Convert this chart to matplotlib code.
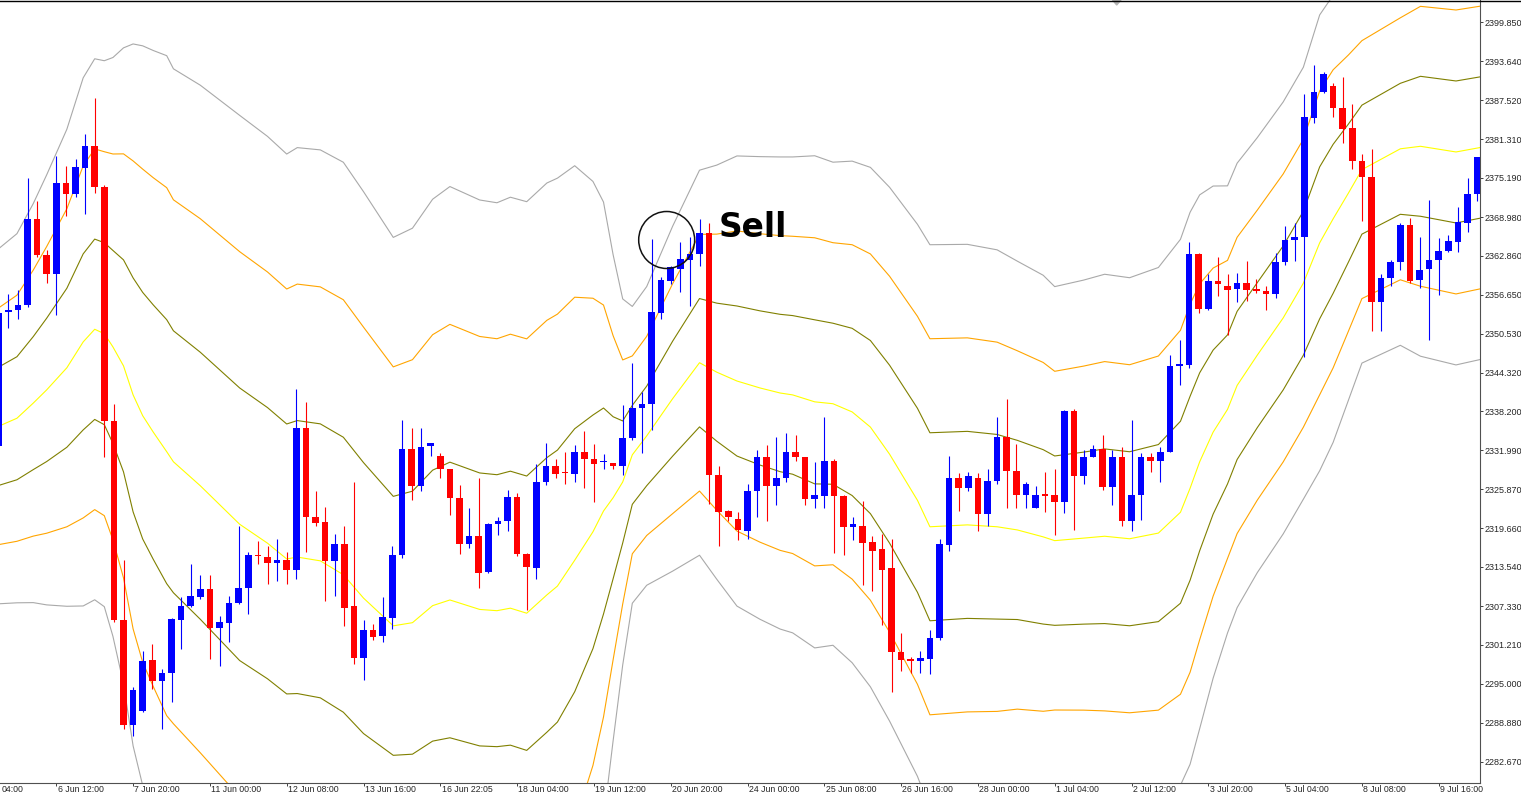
import numpy as np
import matplotlib
matplotlib.use("Agg")
import matplotlib.pyplot as plt
from matplotlib.patches import Ellipse, Polygon
from matplotlib.lines import Line2D
import matplotlib.transforms as mtrans

# 4H candles, XAUUSD-like
opens = [2332.7, 2354.0, 2354.2, 2355.1, 2368.6, 2363.0, 2359.9, 2374.4, 2372.6, 2376.8,
         2380.2, 2373.8, 2336.6, 2305.1, 2288.5, 2290.7, 2298.8, 2295.4, 2296.7, 2305.1,
         2307.4, 2308.8, 2310.1, 2303.9, 2304.6, 2307.8, 2310.2, 2315.4, 2315.1, 2314.2,
         2314.7, 2313.0, 2335.6, 2321.5, 2320.7, 2314.5, 2317.1, 2307.3, 2299.1, 2303.5,
         2302.6, 2305.5, 2315.4, 2332.2, 2326.3, 2332.7, 2331.1, 2329.0, 2324.5, 2317.1,
         2318.4, 2312.7, 2320.3, 2320.8, 2324.6, 2315.6, 2313.4, 2327.0, 2329.5, 2328.5,
         2328.3, 2331.8, 2330.6, 2330.1, 2330.0, 2329.5, 2334.0, 2338.7, 2339.4, 2353.7,
         2358.8, 2360.8, 2362.2, 2363.1, 2366.4, 2328.1, 2322.4, 2321.2, 2319.3, 2325.6,
         2330.9, 2326.3, 2327.7, 2331.8, 2330.9, 2324.3, 2324.8, 2330.3, 2324.8, 2319.8,
         2320.1, 2317.5, 2316.3, 2313.3, 2300.0, 2298.8, 2298.6, 2298.9, 2302.3, 2317.0,
         2327.6, 2326.0, 2327.7, 2321.9, 2327.2, 2334.2, 2328.8, 2325.0, 2322.9, 2325.0,
         2324.9, 2323.8, 2338.3, 2327.9, 2331.0, 2332.3, 2326.2, 2330.9, 2320.8, 2324.9,
         2330.9, 2330.3, 2331.8, 2345.4, 2345.5, 2363.2, 2354.4, 2358.8, 2358.1, 2357.6,
         2358.6, 2357.5, 2357.2, 2356.8, 2361.8, 2365.4, 2365.9, 2384.7, 2388.8, 2389.7,
         2386.2, 2383.1, 2377.9, 2375.3, 2355.5, 2359.3, 2361.9, 2367.8, 2359.0, 2360.7,
         2362.1, 2363.6, 2365.0, 2368.1, 2372.6]
highs = [2354.5, 2356.8, 2357.4, 2375.1, 2371.5, 2363.8, 2378.6, 2377.0, 2378.2, 2382.1,
         2387.8, 2374.0, 2339.4, 2314.7, 2294.5, 2300.2, 2301.4, 2297.4, 2305.5, 2308.8,
         2314.0, 2312.3, 2312.2, 2305.7, 2309.0, 2320.1, 2315.9, 2317.7, 2316.8, 2318.0,
         2315.9, 2341.7, 2339.7, 2325.5, 2323.1, 2318.7, 2320.1, 2327.0, 2305.1, 2304.5,
         2308.8, 2316.9, 2336.8, 2335.6, 2335.6, 2333.1, 2331.6, 2329.1, 2326.5, 2322.8,
         2327.7, 2320.5, 2321.4, 2325.8, 2325.3, 2315.7, 2329.9, 2333.2, 2330.7, 2331.8,
         2332.8, 2335.0, 2333.0, 2331.4, 2330.0, 2339.2, 2345.8, 2341.3, 2365.5, 2359.5,
         2361.3, 2365.0, 2365.9, 2368.7, 2368.1, 2329.5, 2322.6, 2322.2, 2326.7, 2332.1,
         2332.8, 2334.1, 2334.8, 2334.4, 2331.0, 2330.2, 2337.3, 2330.6, 2325.0, 2321.5,
         2324.0, 2318.4, 2318.7, 2318.0, 2303.1, 2299.3, 2300.2, 2303.6, 2318.0, 2331.1,
         2328.4, 2328.6, 2328.4, 2329.0, 2337.3, 2340.1, 2333.0, 2327.0, 2326.3, 2328.6,
         2329.1, 2338.4, 2338.5, 2332.1, 2332.8, 2334.4, 2332.0, 2332.5, 2336.9, 2331.6,
         2331.6, 2332.5, 2347.2, 2349.5, 2365.0, 2363.3, 2359.9, 2362.6, 2359.9, 2360.1,
         2362.0, 2359.1, 2358.1, 2363.3, 2367.6, 2368.1, 2388.5, 2393.1, 2391.9, 2390.3,
         2391.2, 2386.9, 2379.0, 2379.8, 2359.9, 2362.2, 2368.1, 2368.9, 2365.9, 2371.7,
         2365.7, 2366.2, 2370.5, 2375.2, 2378.5]
lows = [2332.0, 2351.4, 2352.8, 2354.7, 2362.7, 2358.6, 2353.5, 2369.2, 2372.2, 2369.4,
        2372.8, 2330.9, 2304.8, 2287.8, 2286.8, 2290.5, 2294.2, 2287.8, 2292.1, 2300.5,
        2307.2, 2308.5, 2298.9, 2297.9, 2301.6, 2307.6, 2306.0, 2314.0, 2310.8, 2311.3,
        2310.9, 2311.6, 2315.9, 2320.1, 2308.1, 2309.0, 2304.1, 2298.1, 2295.6, 2301.9,
        2301.6, 2303.7, 2314.9, 2324.2, 2325.6, 2331.1, 2327.7, 2321.7, 2315.6, 2316.6,
        2310.2, 2312.5, 2318.6, 2319.3, 2315.3, 2306.7, 2311.6, 2326.5, 2327.7, 2326.7,
        2327.0, 2326.0, 2323.9, 2329.0, 2329.1, 2328.1, 2333.7, 2331.6, 2335.2, 2352.8,
        2358.3, 2357.1, 2354.9, 2361.3, 2323.5, 2316.9, 2320.8, 2317.8, 2318.0, 2321.5,
        2320.8, 2323.3, 2327.0, 2330.3, 2323.3, 2322.8, 2322.9, 2315.7, 2315.5, 2317.8,
        2310.6, 2309.7, 2304.4, 2293.7, 2297.0, 2296.8, 2296.8, 2296.5, 2302.0, 2316.1,
        2322.4, 2325.6, 2319.3, 2320.0, 2326.7, 2322.9, 2322.9, 2322.9, 2322.8, 2322.2,
        2318.6, 2322.1, 2319.4, 2326.7, 2331.0, 2325.8, 2323.3, 2320.0, 2319.2, 2321.0,
        2328.6, 2327.0, 2331.7, 2342.4, 2345.0, 2353.7, 2354.2, 2356.5, 2350.3, 2355.5,
        2355.7, 2357.0, 2354.2, 2356.1, 2361.4, 2362.0, 2346.8, 2383.9, 2388.7, 2384.8,
        2380.7, 2376.6, 2368.4, 2351.0, 2351.0, 2358.1, 2360.6, 2358.5, 2357.8, 2349.5,
        2356.7, 2363.4, 2363.4, 2366.6, 2371.5]
closes = [2353.8, 2354.2, 2355.1, 2368.6, 2362.9, 2359.9, 2374.4, 2372.6, 2376.9, 2380.2,
          2373.7, 2336.6, 2305.1, 2288.5, 2294.0, 2298.6, 2295.4, 2296.7, 2305.3, 2307.4,
          2309.0, 2310.1, 2303.9, 2304.8, 2307.8, 2310.2, 2315.4, 2315.2, 2314.2, 2314.7,
          2313.0, 2335.6, 2321.4, 2320.5, 2314.5, 2317.1, 2307.1, 2299.1, 2303.5, 2302.4,
          2305.6, 2315.4, 2332.2, 2326.3, 2332.5, 2333.1, 2329.1, 2324.4, 2317.1, 2318.4,
          2312.5, 2320.3, 2320.8, 2324.6, 2315.6, 2313.5, 2327.0, 2329.5, 2328.3, 2328.4,
          2331.8, 2330.6, 2329.9, 2330.3, 2329.5, 2334.0, 2338.7, 2339.4, 2353.9, 2359.0,
          2361.1, 2362.4, 2363.2, 2366.4, 2328.1, 2322.2, 2321.5, 2319.4, 2325.6, 2330.9,
          2326.3, 2327.7, 2331.8, 2330.9, 2324.3, 2324.9, 2330.3, 2324.8, 2319.8, 2320.3,
          2317.3, 2316.1, 2313.0, 2300.0, 2298.8, 2298.7, 2299.1, 2302.3, 2317.1, 2327.6,
          2326.0, 2327.9, 2321.9, 2327.2, 2334.1, 2328.7, 2325.0, 2326.7, 2325.0, 2324.8,
          2323.8, 2338.3, 2327.9, 2330.9, 2332.3, 2326.2, 2330.9, 2320.8, 2324.9, 2330.9,
          2330.3, 2331.8, 2345.4, 2345.5, 2363.2, 2354.4, 2358.8, 2358.3, 2357.5, 2358.5,
          2357.5, 2357.3, 2356.8, 2361.9, 2365.3, 2365.9, 2384.8, 2388.8, 2391.7, 2386.2,
          2383.0, 2377.9, 2375.3, 2355.5, 2359.3, 2361.9, 2367.8, 2358.8, 2360.6, 2362.1,
          2363.6, 2365.2, 2368.2, 2372.7, 2378.5]

# band centre line and one deviation, sampled along the bar axis
band_idx = [0.1, 1.9, 3.6, 5.0, 7.1, 8.8, 10.0, 11.0, 11.9, 13.0,
            14.0, 15.0, 16.1, 17.5, 18.2, 21.0, 25.1, 28.0, 30.0, 31.1,
            33.5, 35.9, 38.0, 41.1, 43.1, 45.2, 47.0, 50.1, 51.9, 53.3,
            55.0, 57.1, 58.2, 60.0, 61.9, 63.0, 64.0, 65.0, 66.0, 67.5,
            70.2, 73.0, 74.8, 76.9, 79.3, 81.4, 82.7, 85.0, 86.9, 88.9,
            90.8, 92.8, 95.7, 97.0, 100.9, 104.0, 106.1, 108.8, 110.0, 113.0,
            115.2, 117.8, 120.8, 123.1, 124.1, 125.1, 126.5, 128.0, 129.0, 131.1,
            133.8, 135.9, 137.6, 139.0, 140.6, 142.0, 146.0, 148.1, 151.8, 154.3]
band_mid = [2335.9, 2337.1, 2339.5, 2341.6, 2345.1, 2349.2, 2351.2, 2350.5, 2348.4, 2345.4,
            2340.8, 2337.5, 2334.9, 2331.8, 2330.2, 2326.4, 2320.3, 2317.3, 2314.8, 2315.1,
            2314.5, 2312.3, 2308.6, 2304.2, 2304.7, 2307.4, 2308.3, 2306.8, 2306.6, 2307.0,
            2306.2, 2309.1, 2310.5, 2314.6, 2319.1, 2322.4, 2324.5, 2327.0, 2331.3, 2334.3,
            2340.2, 2345.9, 2344.4, 2343.0, 2341.9, 2341.1, 2340.8, 2339.7, 2339.4, 2338.1,
            2335.7, 2331.4, 2324.1, 2319.9, 2320.2, 2319.9, 2319.4, 2318.3, 2317.7, 2318.1,
            2318.4, 2318.0, 2318.9, 2322.2, 2326.0, 2330.2, 2334.9, 2338.5, 2342.3, 2347.1,
            2353.0, 2358.5, 2364.9, 2368.7, 2372.8, 2376.5, 2379.8, 2380.2, 2379.3, 2380.0]
band_dev = [9.40, 9.75, 10.54, 11.36, 12.60, 13.95, 14.29, 14.42, 15.29, 16.80,
            18.54, 19.54, 20.16, 20.92, 20.76, 21.16, 21.60, 21.49, 21.39, 21.63,
            21.71, 21.79, 21.47, 20.52, 20.84, 21.47, 21.84, 21.63, 21.55, 21.71,
            21.74, 21.76, 21.55, 20.84, 18.51, 16.32, 12.84, 9.67, 7.84, 7.89,
            9.11, 10.17, 10.94, 11.89, 12.22, 12.47, 12.57, 13.00, 12.76, 13.25,
            13.72, 14.10, 14.58, 14.90, 14.82, 14.63, 14.20, 13.82, 13.42, 13.63,
            13.84, 13.79, 14.03, 14.42, 14.58, 14.10, 13.00, 11.81, 11.74, 11.49,
            11.41, 11.41, 12.04, 11.81, 10.94, 10.22, 10.38, 11.09, 11.25, 11.20]

price_ticks = [2399.850, 2393.640, 2387.520, 2381.310, 2375.190, 2368.980, 2362.860,
               2356.650, 2350.530, 2344.320, 2338.200, 2331.990, 2325.870, 2319.660,
               2313.540, 2307.330, 2301.210, 2295.000, 2288.880, 2282.670]

time_idx = [6, 14, 22, 30, 38, 46, 54, 62, 70, 78, 86, 94, 102, 110, 118, 126, 134, 142, 150]
time_labels = ["6 Jun 12:00", "7 Jun 20:00", "11 Jun 00:00", "12 Jun 08:00",
               "13 Jun 16:00", "16 Jun 22:05", "18 Jun 04:00", "19 Jun 12:00", "20 Jun 20:00",
               "24 Jun 00:00", "25 Jun 08:00", "26 Jun 16:00", "28 Jun 00:00", "1 Jul 04:00",
               "2 Jul 12:00", "3 Jul 20:00", "5 Jul 04:00", "8 Jul 08:00", "9 Jul 16:00"]
# the label of the bar before the visible range only shows its time part
first_label = "04:00"

band_levels = [(3, "#a9a9a9"), (2, "#ffa500"), (1, "#808000"), (0, "#ffff00"),
               (-1, "#808000"), (-2, "#ffa500"), (-3, "#a9a9a9")]

W, H = 1521, 796
plt.rcParams["font.family"] = ["Liberation Sans", "DejaVu Sans"]

fig = plt.figure(figsize=(W / 100, H / 100), dpi=100)
ax = fig.add_axes([0, 13.3 / H, 1480 / W, 782.7 / H])

o = np.array(opens); h = np.array(highs); l = np.array(lows); c = np.array(closes)
idx = np.arange(len(o))
up = c >= o
col = np.where(up, "#0000ff", "#ff0000")

bi = np.array(band_idx); bm = np.array(band_mid); bd = np.array(band_dev)
for k, color in band_levels:
    ax.plot(bi, bm + k * bd, color=color, lw=0.8, zorder=1)

ax.vlines(idx, l, h, colors=col, lw=0.8, zorder=2)
body_lo = np.minimum(o, c)
body_h = np.maximum(np.abs(c - o), 0.22)
ax.bar(idx, body_h, bottom=body_lo, width=0.68, color=col, linewidth=0, zorder=3)

# signal marker
ax.add_patch(Ellipse((69.58, 2365.35), width=5.83, height=9.03, fill=False,
                     edgecolor="#111111", lw=1.1, zorder=4))
ax.text(74.96, 2365.78, "Sell", fontsize=23.7, fontweight="bold", family="DejaVu Sans",
        ha="left", va="baseline", color="black", zorder=5)

ax.set_xlim(0.1354, 154.30)
ax.set_ylim(2279.34, 2403.384)

ax.yaxis.tick_right()
ax.set_yticks(price_ticks)
ax.set_yticklabels(["%.3f" % p for p in price_ticks])
ax.tick_params(axis="y", length=2.2, width=0.7, pad=1.0, labelsize=6.5,
               colors="#404040", labelcolor="#262626")

ax.set_xticks(time_idx)
ax.set_xticklabels([])
ax.tick_params(axis="x", length=2.5, width=0.7, colors="#404040")
trans = mtrans.blended_transform_factory(ax.transData, ax.transAxes)
shift = mtrans.ScaledTranslation(1.2 / 100, 0, fig.dpi_scale_trans)
for t, lab in zip(time_idx, time_labels):
    ax.text(t, -0.0035, lab, transform=trans + shift, ha="left", va="top",
            fontsize=6.3, color="#262626", clip_on=False)
ax.text(2.0 / 1480, -0.0035, first_label, transform=ax.transAxes, ha="left", va="top",
        fontsize=6.3, color="#262626", clip_on=False)

for side in ("left", "top"):
    ax.spines[side].set_visible(False)
for side in ("right", "bottom"):
    ax.spines[side].set_color("#505050")
    ax.spines[side].set_linewidth(0.8)

fig.add_artist(Line2D([0, 1], [1 - 0.6 / H, 1 - 0.6 / H], transform=fig.transFigure,
                      color="black", lw=1.0))
fig.add_artist(Polygon([[1112.5 / W, 1.0], [1121.0 / W, 1.0], [1116.7 / W, 1 - 5.0 / H]],
                       closed=True, transform=fig.transFigure, color="#b4b4b4"))

fig.savefig("out.png", dpi=100)
